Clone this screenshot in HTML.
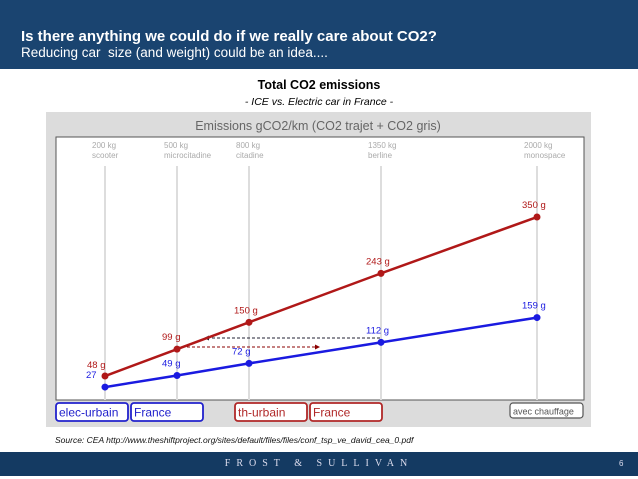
<!DOCTYPE html>
<html><head><meta charset="utf-8"><style>
body{margin:0;width:638px;height:479px;overflow:hidden;background:#fff;font-family:"Liberation Sans",sans-serif;position:relative}
.hdr{position:absolute;left:0;top:0;width:638px;height:69px;background:#1a4470}
.t1{position:absolute;left:21px;top:28px;color:#fff;font-weight:bold;font-size:15px}
.t2{position:absolute;left:21px;top:45px;color:#fff;font-size:13.5px}
.ftr{position:absolute;left:0;top:452px;width:638px;height:24px;background:#143a62}
</style></head><body>
<div class="hdr"></div>
<div class="t1">Is there anything we could do if we really care about CO2?</div>
<div class="t2">Reducing car&nbsp; size (and weight) could be an idea....</div>
<div style="position:absolute;left:0;width:638px;top:78px;text-align:center;font-weight:bold;font-size:12.5px">Total CO2 emissions</div>
<div style="position:absolute;left:0;width:638px;top:96px;text-align:center;font-style:italic;font-size:10.5px">- ICE vs. Electric car in France -</div>
<svg id="chart" width="638" height="479" style="position:absolute;left:0;top:0" font-family="Liberation Sans, sans-serif"></svg>
<div style="position:absolute;left:55px;top:435px;font-style:italic;font-size:8.5px;color:#111">Source: CEA http://www.theshiftproject.org/sites/default/files/files/conf_tsp_ve_david_cea_0.pdf</div>
<div class="ftr"></div>
<div style="position:absolute;left:0;width:638px;top:458px;text-align:center;color:#dde;font-family:'Liberation Serif',serif;font-size:10px;letter-spacing:6px">FROST &amp; SULLIVAN</div>
<div style="position:absolute;left:619px;top:459px;color:#dde;font-size:8px">6</div>
<script>
const weights=[200,500,800,1350,2000];
const classes=["scooter","microcitadine","citadine","berline","monospace"];
const iceVals=[48,99,150,243,350];
const evVals=[27,49,72,112,159];
const x=w=>105+(w-200)*0.24;
const y=v=>401.3-v*0.5265;
const svg=document.getElementById('chart');
const NS='http://www.w3.org/2000/svg';
function mk(t,a,txt){const e=document.createElementNS(NS,t);for(const k in a)e.setAttribute(k,a[k]);if(txt!=null)e.textContent=txt;svg.appendChild(e);return e;}
let e;
e=mk('rect',{x:46,y:112,width:545,height:315,fill:'#dcdcdc'});


e=mk('text',{x:318,y:130,'text-anchor':'middle','font-size':12.5,fill:'#666'},'Emissions gCO2/km (CO2 trajet + CO2 gris)');


e=mk('rect',{x:56,y:137,width:528,height:263,fill:'#fff',stroke:'#555','stroke-width':1});


weights.forEach((w,i)=>{
 e=mk('line',{x1:x(w),x2:x(w),y1:166,y2:400,stroke:'#ddd','stroke-width':2});
 
 
 e=mk('text',{x:x(w)-13,y:148,'font-size':8,fill:'#aaa'},w+' kg');
 
 
 e=mk('text',{x:x(w)-13,y:158,'font-size':8,fill:'#aaa'},classes[i]);
 
 
});
e=mk('line',{x1:207,x2:x(1350),y1:338,y2:338,stroke:'#223','stroke-width':1,'stroke-dasharray':'3,2'});


e=mk('path',{d:'M204,338 l5,-2.5 v5 z',fill:'#223'});


e=mk('line',{x1:x(500),x2:316,y1:347,y2:347,stroke:'#8b0000','stroke-width':1,'stroke-dasharray':'3,2'});


e=mk('path',{d:'M320,347 l-5,-2.5 v5 z',fill:'#8b0000'});


function series(vals,col,name){
 e=mk('polyline',{points:vals.map((v,i)=>x(weights[i])+','+y(v)).join(' '),fill:'none',stroke:col,'stroke-width':2.5});
 
 
 vals.forEach((v,i)=>{
  e=mk('circle',{cx:x(weights[i]),cy:y(v),r:3.5,fill:col});
  
  
  const txt=(name==='ev'&&i===0)?String(v):v+' g';
  let lx=x(weights[i])-15, ly=y(v)-9;
  if(name==='ice'&&i===0){lx=x(weights[i])-18;ly=y(v)-8;}
  if(name==='ev'&&i===0){lx=x(weights[i])-19;ly=y(v)-9;}
  if(name==='ev'&&i===2){lx=x(weights[i])-17;ly=y(v)-9;}
  e=mk('text',{x:lx,y:ly,'font-size':9.5,fill:col},txt);
  
  
 });
}
series(iceVals,'#b01818','ice');
series(evVals,'#1a1ae0','ev');
const boxes=[["elec-urbain",56,72,'#2222cc'],["France",131,72,'#2222cc'],["th-urbain",235,72,'#b02828'],["France",310,72,'#b02828'],["avec chauffage",510,73,'#555']];
boxes.forEach(b=>{
 const gray=b[3]==='#555';
 e=mk('rect',{x:b[1],y:403,width:b[2],height:gray?15:18,rx:3,fill:'#fff',stroke:b[3],'stroke-width':gray?1.2:1.8});
 
 
 e=mk('text',{x:b[1]+3,y:gray?414.5:416.5,'font-size':gray?9:12,fill:b[3]},b[0]);
 
 
});
</script>
</body></html>
